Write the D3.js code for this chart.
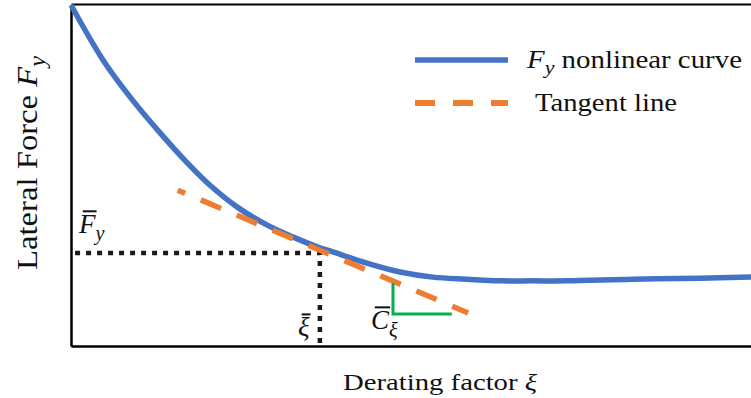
<!DOCTYPE html>
<html>
<head>
<meta charset="utf-8">
<script src="https://cdn.jsdelivr.net/npm/d3@7"></script>
<style>
  html, body { margin: 0; padding: 0; background: #fff; }
  svg { display: block; }
  text { font-family: "Liberation Serif", "Times New Roman", serif; fill: #111; }
</style>
</head>
<body>
<svg id="chart" width="751" height="398"></svg>
<script>
// Lateral force vs. derating factor (normalised units)
const xiValues = [0, 0.047, 0.087, 0.131, 0.171, 0.204, 0.244, 0.288, 0.326, 0.362, 0.385, 0.435, 0.484, 0.532, 0.582, 0.631, 0.679, 0.729, 0.826, 0.925, 1.0];
const fyValues = [1.0, 0.839, 0.730, 0.625, 0.537, 0.472, 0.408, 0.355, 0.320, 0.291, 0.276, 0.243, 0.217, 0.202, 0.196, 0.191, 0.191, 0.191, 0.196, 0.199, 0.202];

// Tangent line through the operating point
const tangentXi = [0.157, 0.584];
const tangentFy = [0.457, 0.097];

// Operating point (xi bar, Fy bar)
const xiBar = 0.366;
const fyBar = 0.273;

// Slope marker C_xi
const slopeXi = [0.4735, 0.4735, 0.560];
const slopeFy = [0.185, 0.094, 0.094];

const legendLabels = ["nonlinear curve", "Tangent line"];

const W = 751, H = 398;
const margin = { left: 71, right: 0, top: 5, bottom: 52 };

const x = d3.scaleLinear().domain([0, 1]).range([margin.left, W - margin.right]);
const y = d3.scaleLinear().domain([0, 1]).range([H - margin.bottom, margin.top]);

const svg = d3.select("#chart");

// Frame: left, bottom and top lines, no ticks
const axisStyle = g => g.select(".domain").attr("stroke", "#000").attr("stroke-width", 2.5);
svg.append("g").attr("transform", `translate(0,${y(0)})`)
  .call(d3.axisBottom(x).ticks(0).tickSizeOuter(0)).call(axisStyle);
svg.append("g").attr("transform", `translate(${x(0)},0)`)
  .call(d3.axisLeft(y).ticks(0).tickSizeOuter(0)).call(axisStyle);
svg.append("g").attr("transform", `translate(0,${y(1) - 1})`)
  .call(d3.axisTop(x).ticks(0).tickSizeOuter(0))
  .call(g => g.select(".domain").attr("stroke", "#000").attr("stroke-width", 2));

// Dotted guides to the operating point
const guide = d3.line().x(d => x(d[0])).y(d => y(d[1]));
svg.append("path")
  .attr("d", guide([[0.006, fyBar], [xiBar, fyBar], [xiBar, 0]]))
  .attr("fill", "none").attr("stroke", "#1a1a1a")
  .attr("stroke-width", 4.5).attr("stroke-dasharray", "5 6");

// Nonlinear curve
const curve = d3.line()
  .x((d, i) => x(xiValues[i]))
  .y(d => y(d))
  .curve(d3.curveCatmullRom.alpha(0.5));
svg.append("path")
  .attr("d", curve(fyValues))
  .attr("fill", "none").attr("stroke", "#4472c4")
  .attr("stroke-width", 5.5).attr("stroke-linecap", "butt");

// Tangent line
svg.append("path")
  .attr("d", d3.line().x((d, i) => x(tangentXi[i])).y(d => y(d))(tangentFy))
  .attr("fill", "none").attr("stroke", "#ed7d31")
  .attr("stroke-width", 5.5).attr("stroke-dasharray", "22 17").attr("stroke-dashoffset", 14);

// Slope marker
svg.append("path")
  .attr("d", d3.line().x((d, i) => x(slopeXi[i])).y(d => y(d))(slopeFy))
  .attr("fill", "none").attr("stroke", "#00b050").attr("stroke-width", 3);

// Italic symbol with subscript and optional overbar
function symbol(px, py, main, sub, size, bar) {
  const t = svg.append("text").attr("x", px).attr("y", py)
    .attr("font-size", size).attr("font-style", "italic");
  const m = t.append("tspan").text(main);
  t.append("tspan").attr("dy", size * 0.28).attr("font-size", size * 0.75).text(sub);
  if (bar) {
    const w = m.node().getComputedTextLength();
    svg.append("line")
      .attr("x1", px + size * 0.14).attr("x2", px + w + size * 0.04)
      .attr("y1", py - size * 0.8).attr("y2", py - size * 0.8)
      .attr("stroke", "#111").attr("stroke-width", 2);
  }
  return t;
}

symbol(x(0) + 8, y(fyBar) - 20, "F", "y", 27, true);
symbol(x(xiBar) - 22, y(0) - 10, "ξ", "", 27, true);
symbol(x(slopeXi[0]) - 22, y(slopeFy[1]) + 15, "C", "ξ", 27, true);

// Axis titles
svg.append("text")
  .attr("x", 343).attr("y", 390)
  .attr("font-size", 23)
  .attr("textLength", 194).attr("lengthAdjust", "spacingAndGlyphs")
  .call(t => {
    t.append("tspan").text("Derating factor ");
    t.append("tspan").attr("font-style", "italic").text("ξ");
  });

svg.append("text")
  .attr("transform", `translate(37,163) scale(1.12,1) rotate(-90)`)
  .attr("text-anchor", "middle")
  .attr("font-size", 27)
  .attr("textLength", 214).attr("lengthAdjust", "spacingAndGlyphs")
  .call(t => {
    t.append("tspan").text("Lateral Force ");
    t.append("tspan").attr("font-style", "italic").text("F");
    t.append("tspan").attr("font-style", "italic").attr("font-size", 20).attr("dy", 7).text("y");
  });

// Legend
const lgX0 = 415, lgX1 = 508;
svg.append("line").attr("x1", lgX0).attr("x2", lgX1).attr("y1", 60).attr("y2", 60)
  .attr("stroke", "#4472c4").attr("stroke-width", 5.5);
svg.append("line").attr("x1", lgX0).attr("x2", lgX1).attr("y1", 103).attr("y2", 103)
  .attr("stroke", "#ed7d31").attr("stroke-width", 6).attr("stroke-dasharray", "20 18");

svg.append("text").attr("x", 527).attr("y", 68).attr("font-size", 25)
  .attr("textLength", 215).attr("lengthAdjust", "spacingAndGlyphs")
  .call(t => {
    t.append("tspan").attr("font-style", "italic").text("F");
    t.append("tspan").attr("font-style", "italic").attr("font-size", 19).attr("dy", 6).text("y");
    t.append("tspan").attr("dy", -6).text(" " + legendLabels[0]);
  });
svg.append("text").attr("x", 535).attr("y", 111).attr("font-size", 25)
  .attr("textLength", 142).attr("lengthAdjust", "spacingAndGlyphs")
  .text(legendLabels[1]);
</script>
</body>
</html>
